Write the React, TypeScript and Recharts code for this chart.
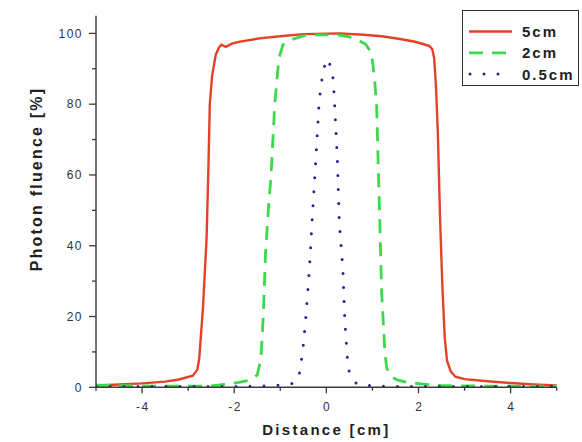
import React from 'react';
import { LineChart, Line, XAxis, YAxis, Legend, Label } from 'recharts';

// ---- data ----
const seriesNames = ['5cm', '2cm', '0.5cm'];
const seriesColors = ['#e4412a', '#3bd94b', '#24248f'];

const x5cm = [-5, -4.5, -4, -3.5, -3.2, -2.9, -2.8, -2.76, -2.72, -2.68, -2.64, -2.6, -2.56, -2.53, -2.48, -2.4, -2.33, -2.28, -2.18, -2.05, -1.9, -1.45, -1.0, -0.5, 0.3, 0.8, 1.2, 1.6, 1.9, 2.1, 2.24, 2.3, 2.34, 2.38, 2.42, 2.47, 2.52, 2.57, 2.62, 2.7, 2.8, 3.0, 3.5, 4.0, 4.5, 5.0];
const y5cm = [0.5, 0.8, 1.1, 1.6, 2.2, 3.3, 5, 8, 15, 22, 32, 42, 62, 80, 88, 94, 96, 96.8, 96.2, 97.1, 97.6, 98.6, 99.2, 99.8, 100, 99.6, 99.2, 98.4, 97.7, 97, 96.4, 95.5, 93, 85, 72, 47, 28, 14, 7.5, 4.5, 3, 2.3, 1.7, 1.2, 0.8, 0.5];

const x2cm = [-5, -4.5, -4, -3.5, -3, -2.5, -2.2, -1.9, -1.65, -1.5, -1.42, -1.37, -1.32, -1.26, -1.2, -1.12, -1.03, -0.94, -0.72, -0.43, 0.22, 0.5, 0.7, 0.85, 0.98, 1.04, 1.09, 1.16, 1.2, 1.27, 1.31, 1.4, 1.55, 1.75, 2.1, 2.5, 3, 4, 5];
const y2cm = [0.6, 0.5, 0.4, 0.3, 0.3, 0.4, 0.8, 1.4, 2, 3.5, 8, 20, 38, 50, 60, 80, 93, 96.8, 98.4, 99.6, 99.6, 99, 98, 97, 94.5, 88, 80, 47, 27, 10, 5.5, 3, 2, 1.4, 0.9, 0.5, 0.4, 0.3, 0.3];

const x05cm = [-5, -4, -3, -2, -1.5, -1.1, -0.85, -0.68, -0.6, -0.56, -0.5, -0.45, -0.37, -0.31, -0.23, -0.16, -0.12, -0.07, 0.0, 0.09, 0.15, 0.18, 0.24, 0.28, 0.36, 0.4, 0.47, 0.55, 0.66, 0.9, 1.2, 2, 3, 4, 5];
const y05cm = [0.2, 0.2, 0.2, 0.2, 0.3, 0.5, 0.8, 1.3, 3, 5.5, 12, 19, 33, 47, 64, 80, 85, 89, 92.8, 91, 87, 80, 64, 47, 33, 19, 5.5, 2.5, 1, 0.5, 0.3, 0.2, 0.2, 0.2, 0.2];

const xTicks = [-5, -4, -3, -2, -1, 0, 1, 2, 3, 4, 5];
const xMajor = [-4, -2, 0, 2, 4];
const yTicks = [0, 10, 20, 30, 40, 50, 60, 70, 80, 90, 100];
const yMajor = [0, 20, 40, 60, 80, 100];

const toPoints = (xs: number[], ys: number[]) => xs.map((x, i) => ({ x, y: ys[i] }));
const data5 = toPoints(x5cm, y5cm);
const data2 = toPoints(x2cm, y2cm);
const data05 = toPoints(x05cm, y05cm);

const FONT = 'Arial, "Liberation Sans", Helvetica, sans-serif';
const AXIS_COLOR = '#3a3a3a';
const TEXT_COLOR = '#333';

const XTick = (props: any) => {
  const { x, y, payload } = props;
  const major = xMajor.includes(payload.value);
  return (
    <g>
      <line x1={x} x2={x} y1={y} y2={y + (major ? 6 : 3.5)} stroke={AXIS_COLOR} strokeWidth={1.3} />
      {major && (
        <text x={x + 0.8} y={y + 24} textAnchor="middle" fontFamily={FONT} fontSize={12} letterSpacing={1.5} fill={TEXT_COLOR}>
          {payload.value}
        </text>
      )}
    </g>
  );
};

const YTick = (props: any) => {
  const { x, y, payload } = props;
  const major = yMajor.includes(payload.value);
  return (
    <g>
      <line x1={x - (major ? 7 : 4)} x2={x} y1={y} y2={y} stroke={AXIS_COLOR} strokeWidth={1.3} />
      {major && (
        <text x={x - 13} y={y + 4.3} textAnchor="end" fontFamily={FONT} fontSize={12} letterSpacing={1.5} fill={TEXT_COLOR}>
          {payload.value}
        </text>
      )}
    </g>
  );
};

const dashes = ['', '14 9', '0 14'];
const widths = [2.4, 2.8, 3];

const LegendBox = () => (
  <svg width={118} height={77} style={{ display: 'block' }}>
    <rect x={0.5} y={0.5} width={116} height={75} fill="#fff" stroke="#333" strokeWidth={1} />
    {seriesNames.map((name, i) => {
      const cy = 21.5 + i * 21.3;
      return (
        <g key={name}>
          <line x1={7} x2={50} y1={cy} y2={cy} stroke={seriesColors[i]} strokeWidth={widths[i]} strokeDasharray={dashes[i] || undefined} strokeLinecap={i === 2 ? 'round' : 'butt'} strokeDashoffset={i === 2 ? -1 : 0} />
          <text x={60} y={cy + 5.5} fontFamily={FONT} fontWeight="bold" fontSize={15} letterSpacing={2} fill="#222">
            {name}
          </text>
        </g>
      );
    })}
  </svg>
);

export default function App() {
  return (
    <div style={{ position: 'absolute', left: 0, top: 0, width: 582, height: 442, background: '#fff' }}>
      <LineChart width={582} height={442} margin={{ top: 15.7, right: 25.3, bottom: 24.7, left: 0 }}>
        <XAxis
          dataKey="x"
          type="number"
          domain={[-5, 5]}
          ticks={xTicks}
          interval={0}
          allowDataOverflow
          tickLine={false}
          tickSize={0}
          tickMargin={0}
          tick={<XTick />}
          height={30}
          axisLine={{ stroke: AXIS_COLOR, strokeWidth: 1.4 }}
        >
          <Label
            content={(p: any) => {
              const vb = p.viewBox || {};
              return (
                <text x={vb.x + vb.width / 2} y={vb.y + 48} textAnchor="middle" fontFamily={FONT} fontWeight="bold" fontSize={15} letterSpacing={2.3} fill="#222">
                  Distance [cm]
                </text>
              );
            }}
          />
        </XAxis>
        <YAxis
          dataKey="y"
          type="number"
          domain={[0, 105]}
          ticks={yTicks}
          interval={0}
          allowDataOverflow
          tickLine={false}
          tickSize={0}
          tickMargin={0}
          tick={<YTick />}
          width={96}
          axisLine={{ stroke: AXIS_COLOR, strokeWidth: 1.4 }}
        >
          <Label
            content={() => (
              <text x={36} y={179} transform="rotate(-90 36 179)" textAnchor="middle" dominantBaseline="central" fontFamily={FONT} fontWeight="bold" fontSize={16} letterSpacing={2.2} fill="#222">
                Photon fluence [%]
              </text>
            )}
          />
        </YAxis>
        <Legend
          layout="vertical"
          align="center"
          verticalAlign="middle"
          content={() => <LegendBox />}
          wrapperStyle={{ position: 'absolute', left: 462, top: 10, width: 118, height: 77 }}
        />
        <Line data={data5} dataKey="y" name={seriesNames[0]} type="linear" stroke={seriesColors[0]} strokeWidth={widths[0]} dot={false} isAnimationActive={false} />
        <Line data={data2} dataKey="y" name={seriesNames[1]} type="linear" stroke={seriesColors[1]} strokeWidth={widths[1]} strokeDasharray={dashes[1]} dot={false} isAnimationActive={false} />
        <Line data={data05} dataKey="y" name={seriesNames[2]} type="linear" stroke={seriesColors[2]} strokeWidth={widths[2]} strokeDasharray={dashes[2]} strokeLinecap="round" dot={false} isAnimationActive={false} />
      </LineChart>
    </div>
  );
}
